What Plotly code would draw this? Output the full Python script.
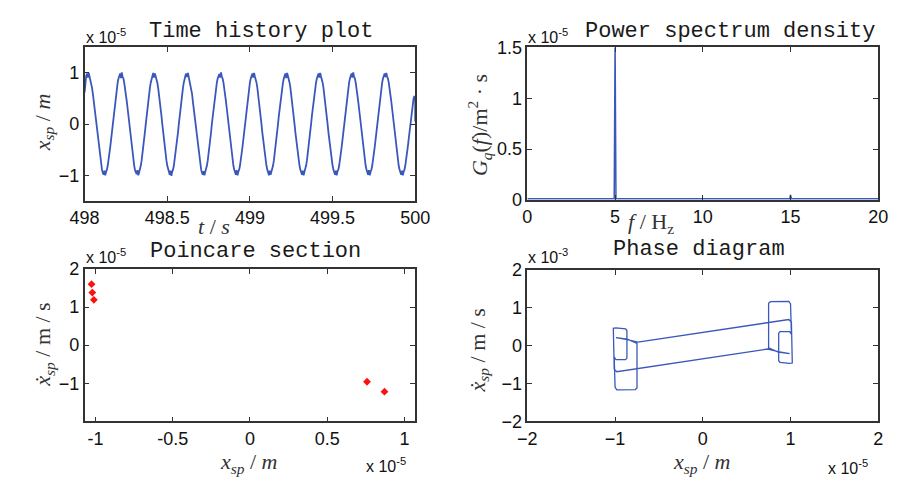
import numpy as np
import plotly.graph_objects as go

W, H = 901, 487

# ---------------- data ----------------
# Time history: x_sp in units of 1e-5 m, sampled every 0.005 s from 498.000 s
t_start = 498.0
t_step = 0.005
x_sp_rows = [
    [0.62, 0.86, 0.95, 0.99, 0.91, 1.00, 0.93, 0.89, 0.81, 0.71, 0.59, 0.45, 0.31, 0.16, 0.00, -0.16, -0.31, -0.45, -0.59, -0.71, -0.81, -0.89, -0.95, -0.99, -0.91, -1.00, -0.93, -0.89, -0.81, -0.71, -0.59, -0.45, -0.31, -0.16, 0.00, 0.16, 0.31, 0.45, 0.59, 0.71],
    [0.81, 0.89, 0.96, 0.99, 0.90, 1.01, 0.92, 0.89, 0.80, 0.71, 0.58, 0.45, 0.31, 0.16, 0.00, -0.16, -0.31, -0.45, -0.59, -0.71, -0.81, -0.90, -0.95, -0.98, -0.90, -1.00, -0.94, -0.89, -0.81, -0.71, -0.59, -0.45, -0.31, -0.15, 0.00, 0.16, 0.31, 0.45, 0.59, 0.71],
    [0.81, 0.89, 0.95, 1.00, 0.91, 0.99, 0.93, 0.88, 0.81, 0.71, 0.59, 0.45, 0.30, 0.16, 0.00, -0.16, -0.31, -0.45, -0.59, -0.71, -0.81, -0.89, -0.96, -0.99, -0.91, -1.01, -0.93, -0.89, -0.81, -0.70, -0.59, -0.45, -0.31, -0.16, 0.00, 0.16, 0.31, 0.45, 0.59, 0.71],
    [0.81, 0.90, 0.95, 0.99, 0.92, 1.00, 0.92, 0.89, 0.81, 0.71, 0.59, 0.44, 0.31, 0.16, 0.00, -0.16, -0.31, -0.45, -0.59, -0.71, -0.81, -0.89, -0.95, -0.99, -0.92, -1.00, -0.93, -0.88, -0.81, -0.71, -0.59, -0.45, -0.31, -0.16, 0.01, 0.16, 0.31, 0.45, 0.59, 0.71],
    [0.81, 0.89, 0.95, 0.98, 0.91, 1.01, 0.93, 0.89, 0.81, 0.71, 0.59, 0.45, 0.31, 0.16, 0.00, -0.16, -0.30, -0.45, -0.59, -0.71, -0.81, -0.89, -0.95, -0.99, -0.90, -1.00, -0.93, -0.89, -0.81, -0.71, -0.59, -0.45, -0.31, -0.16, 0.00, 0.16, 0.31, 0.45, 0.59, 0.71],
    [0.81, 0.89, 0.96, 0.99, 0.91, 1.00, 0.93, 0.89, 0.81, 0.71, 0.59, 0.45, 0.31, 0.16, 0.00, -0.16, -0.31, -0.45, -0.59, -0.71, -0.81, -0.89, -0.95, -1.00, -0.91, -0.99, -0.93, -0.89, -0.81, -0.71, -0.59, -0.45, -0.31, -0.16, 0.00, 0.16, 0.31, 0.45, 0.59, 0.71],
    [0.81, 0.89, 0.95, 0.99, 0.90, 1.00, 0.94, 0.89, 0.81, 0.71, 0.59, 0.45, 0.31, 0.16, 0.00, -0.16, -0.31, -0.45, -0.59, -0.71, -0.81, -0.89, -0.95, -0.99, -0.91, -1.00, -0.93, -0.89, -0.81, -0.71, -0.59, -0.45, -0.31, -0.16, 0.00, 0.16, 0.31, 0.45, 0.59, 0.71],
    [0.81, 0.89, 0.95, 0.99, 0.91, 1.00, 0.93, 0.89, 0.81, 0.71, 0.59, 0.45, 0.31, 0.16, 0.00, -0.16, -0.31, -0.45, -0.59, -0.71, -0.81, -0.89, -0.96, -0.99, -0.91, -1.00, -0.92, -0.89, -0.81, -0.71, -0.59, -0.45, -0.31, -0.16, 0.00, 0.16, 0.31, 0.45, 0.59, 0.71],
    [0.81, 0.89, 0.95, 0.99, 0.91, 1.01, 0.93, 0.89, 0.81, 0.71, 0.59, 0.45, 0.31, 0.16, 0.00, -0.16, -0.31, -0.45, -0.59, -0.71, -0.81, -0.89, -0.95, -0.99, -0.90, -1.00, -0.93, -0.89, -0.81, -0.71, -0.59, -0.45, -0.31, -0.16, 0.00, 0.16, 0.31, 0.45, 0.59, 0.71],
    [0.81, 0.89, 0.95, 0.99, 0.92, 1.00, 0.93, 0.89, 0.81, 0.71, 0.59, 0.45, 0.31, 0.16, 0.00, -0.16, -0.31, -0.45, -0.59, -0.71, -0.81, -0.89, -0.95, -0.99, -0.91, -1.00, -0.93, -0.89, -0.81, -0.71, -0.59, -0.45, -0.31, -0.16, 0.00, 0.16, 0.31, 0.40, 0.50, 0.55],
]
x_sp_end = [0.50, 0.05]

# Power spectrum density (units of 1e-5)
psd_freq = [0.0, 4.95, 5.0, 5.05, 14.95, 15.0, 15.05, 20.0]
psd_val = [0.01, 0.01, 1.55, 0.01, 0.01, 0.05, 0.01, 0.01]

# Poincare section: x (1e-5 m), v (1e-5 m/s)
poin_x = [-1.025, -1.02, -1.01, 0.758, 0.871]
poin_v = [1.60, 1.38, 1.19, -0.96, -1.22]

# Phase diagram: x (1e-5 m), v (1e-3 m/s)
phase_x = [-0.74, 0.75, 0.98, 1.01, 1.02, 1.02, 0.99, 0.88, 0.865, 0.865, 0.88, 0.99, 1.01, 1.00, 0.98, 0.77, 0.75, 0.75, 0.86, 0.99, 0.86, 0.74,
           -0.75, -0.98, -1.01, -1.02, -1.02, -0.99, -0.88, -0.865, -0.865, -0.88, -0.99, -1.01, -1.00, -0.98, -0.77, -0.75, -0.75, -0.86, -0.99, -0.86, -0.74]
phase_v = [0.09, 0.62, 0.69, 0.62, -0.20, -0.46, -0.47, -0.44, -0.40, 0.33, 0.37, 0.37, 0.30, 1.10, 1.17, 1.16, 1.12, -0.06, -0.17, -0.21, -0.16, -0.09,
           -0.62, -0.69, -0.62, 0.20, 0.46, 0.47, 0.44, 0.40, -0.33, -0.37, -0.37, -0.30, -1.10, -1.17, -1.16, -1.12, 0.06, 0.17, 0.21, 0.16, 0.09]

# ---------------- build ----------------
x_sp = [v for row in x_sp_rows for v in row] + x_sp_end
t = t_start + t_step * np.arange(len(x_sp))
t = np.minimum(t, 500.0)

BLUE = "#3a58bb"
fig = go.Figure()
fig.add_trace(go.Scatter(x=t, y=x_sp, mode="lines", line=dict(color=BLUE, width=1.8),
                         xaxis="x", yaxis="y", showlegend=False))
fig.add_trace(go.Scatter(x=psd_freq, y=psd_val, mode="lines", line=dict(color=BLUE, width=1.5),
                         xaxis="x2", yaxis="y2", showlegend=False))
fig.add_trace(go.Scatter(x=poin_x, y=poin_v, mode="markers",
                         marker=dict(symbol="diamond", size=6, color="#ff1010"),
                         xaxis="x3", yaxis="y3", showlegend=False))
fig.add_trace(go.Scatter(x=phase_x, y=phase_v, mode="lines", line=dict(color=BLUE, width=1.3),
                         xaxis="x4", yaxis="y4", showlegend=False))


def dom_x(a, b):
    return [a / W, b / W]


def dom_y(top, bottom):
    return [1 - bottom / H, 1 - top / H]


tickfont = dict(family="Liberation Sans, Arial, sans-serif", size=18, color="#111111")
base = dict(showline=True, linecolor="#333333", linewidth=1.6, mirror="ticks", ticks="inside",
            ticklen=5, tickwidth=1, tickcolor="#333333", showgrid=False, zeroline=False,
            tickfont=tickfont)

fig.update_layout(
    width=W, height=H, margin=dict(l=0, r=0, t=0, b=0),
    paper_bgcolor="white", plot_bgcolor="white",
    xaxis=dict(base, domain=dom_x(72, 414), range=[498, 500], tickvals=[498, 498.5, 499, 499.5, 500],
               ticktext=["498", "498.5", "499", "499.5", "500"], anchor="y"),
    yaxis=dict(base, domain=dom_y(39, 199), range=[-1.5, 1.5], tickvals=[-1, 0, 1], anchor="x"),
    xaxis2=dict(base, domain=dom_x(530, 893), range=[0, 20], tickvals=[0, 5, 10, 15, 20], anchor="y2"),
    yaxis2=dict(base, domain=dom_y(39, 198), range=[0, 1.5], tickvals=[0, 0.5, 1, 1.5],
                ticktext=["0", "0.5", "1", "1.5"], anchor="x2"),
    xaxis3=dict(base, domain=dom_x(72, 414), range=[-1.07, 1.07], tickvals=[-1, -0.5, 0, 0.5, 1],
                ticktext=["-1", "-0.5", "0", "0.5", "1"], anchor="y3"),
    yaxis3=dict(base, domain=dom_y(270, 429), range=[-2, 2], tickvals=[-1, 0, 1, 2], anchor="x3"),
    xaxis4=dict(base, domain=dom_x(530, 893), range=[-2, 2], tickvals=[-2, -1, 0, 1, 2], anchor="y4"),
    yaxis4=dict(base, domain=dom_y(271, 429), range=[-2, 2], tickvals=[-2, -1, 0, 1, 2], anchor="x4"),
)

TITLE_FONT = dict(family="Liberation Mono, Courier New, monospace", size=22, color="#1a1a1a")
MULT_FONT = dict(family="Liberation Sans, Arial, sans-serif", size=16, color="#111111")
LABEL_FONT = dict(family="Liberation Serif, Times New Roman, serif", size=22, color="#333333")


def ann(text, x, y, font, angle=0, xanchor="center"):
    fig.add_annotation(text=text, x=x / W, y=1 - y / H, xref="paper", yref="paper",
                       showarrow=False, font=font, textangle=angle, xanchor=xanchor, yanchor="middle")


# titles
ann("Time history plot", 254, 22, TITLE_FONT)
ann("Power spectrum density", 740, 22, TITLE_FONT)
ann("Poincare section", 249, 252, TITLE_FONT)
ann("Phase diagram", 708, 250, TITLE_FONT)

# exponent multipliers
ann("x 10<sup>-5</sup>", 71, 27, MULT_FONT, xanchor="left")
ann("x 10<sup>-5</sup>", 529, 27, MULT_FONT, xanchor="left")
ann("x 10<sup>-5</sup>", 71, 257, MULT_FONT, xanchor="left")
ann("x 10<sup>-3</sup>", 529, 257, MULT_FONT, xanchor="left")
ann("x 10<sup>-5</sup>", 361, 475, MULT_FONT, xanchor="left")
ann("x 10<sup>-5</sup>", 839, 477, MULT_FONT, xanchor="left")

# axis labels
ann("<i>x</i><sub><i>sp</i></sub> / <i>m</i>", 30, 118, LABEL_FONT, angle=-90)
ann("<i>t</i> / <i>s</i>", 206, 226, LABEL_FONT)
ann("<i>G</i><sub><i>q</i></sub>(<i>f</i>)/m<sup>2</sup> · s", 480, 120, LABEL_FONT, angle=-90)
ann("<i>f</i> / H<sub>z</sub>", 658, 222, LABEL_FONT)
ann("<i>ẋ</i><sub><i>sp</i></sub> / m / s", 30, 349, LABEL_FONT, angle=-90)
ann("<i>x</i><sub><i>sp</i></sub> / <i>m</i>", 242, 472, LABEL_FONT)
ann("<i>ẋ</i><sub><i>sp</i></sub> / m / s", 480, 355, LABEL_FONT, angle=-90)
ann("<i>x</i><sub><i>sp</i></sub> / <i>m</i>", 710, 472, LABEL_FONT)

fig.write_html("out.html")
